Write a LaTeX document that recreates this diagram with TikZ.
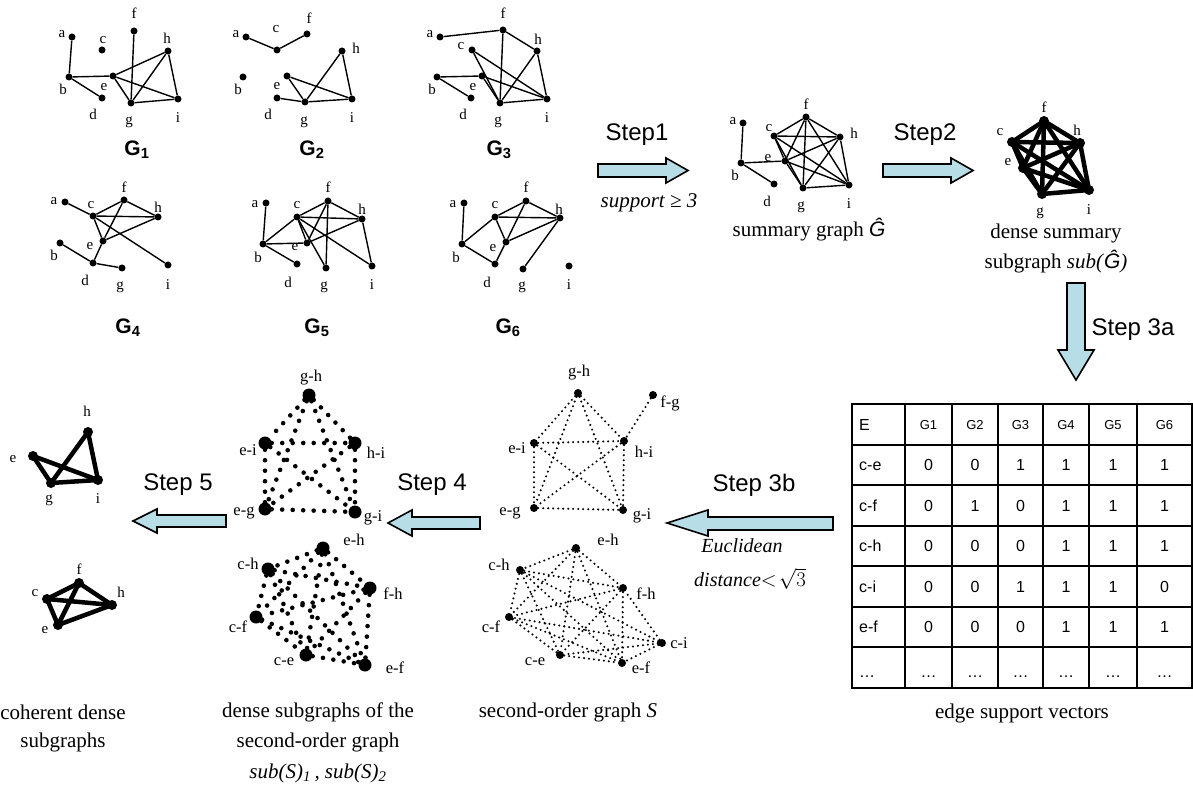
\documentclass[tikz,border=0pt]{standalone}
\usepackage{fontspec}
\setmainfont{Liberation Serif}
\setsansfont{Liberation Sans}
\definecolor{arrowfill}{RGB}{183,222,230}
\tikzset{
  gdot/.style={circle, fill=black, inner sep=0pt, minimum size=7pt},
  ddot/.style={circle, fill=black, inner sep=0pt, minimum size=10pt},
  sdot/.style={circle, fill=black, inner sep=0pt, minimum size=8pt},
  bdot/.style={circle, fill=black, inner sep=0pt, minimum size=13pt},
  glbl/.style={inner sep=0pt, font=\fontsize{15}{15}\selectfont},
  slbl/.style={inner sep=0pt, font=\fontsize{16.5}{16.5}\selectfont},
  gtitle/.style={inner sep=0pt, font=\sffamily\bfseries\fontsize{21}{21}\selectfont},
  steplbl/.style={inner sep=0pt, font=\sffamily\fontsize{24}{24}\selectfont},
  caption/.style={inner sep=0pt, font=\fontsize{21}{21}\selectfont},
  eucl/.style={inner sep=0pt, font=\fontsize{20}{20}\selectfont},
  gedge/.style={line width=1.4pt},
  dedge/.style={line width=4.5pt, line cap=round},
  soedge/.style={line width=2.3pt, line cap=round, dash pattern=on 0pt off 5pt},
  bigedge/.style={line width=4.6pt, line cap=round, dash pattern=on 0pt off 10.5pt},
  blockarrow/.style={draw=black, line width=1.6pt, fill=arrowfill, line join=miter},
  tgrid/.style={line width=2pt},
  thead/.style={inner sep=0pt, anchor=base, font=\sffamily\fontsize{13}{13}\selectfont},
  tval/.style={inner sep=0pt, anchor=base, font=\sffamily\fontsize{16}{16}\selectfont},
  tlab/.style={inner sep=0pt, anchor=base west, font=\sffamily\fontsize{16}{16}\selectfont},
}
\newcommand\tablerow[4]{%
  \node[tlab] (r#1lab) at (859,#2) {#3};
  \foreach \v [count=\c] in {#4} {
    \pgfmathsetmacro\cx{{928.5,975,1020.5,1066,1113,1164.5}[\c-1]}
    \node[tval] (r#1c\c) at (\cx,#2) {\v};
  }
}
\begin{document}
\begin{tikzpicture}[x=1pt,y=-1pt]
\useasboundingbox (0,0) rectangle (1193,791);

% ---------------- G1
\foreach \n/\x/\y in {a/72/37, c/102/50, f/134/31, h/168/51, b/69/77, e/113/76, d/102/98, g/131/103, i/178/99}
  \node[gdot] (ga\n) at (\x,\y) {};
\foreach \n/\x/\y in {a/62/34, c/103/40, f/134/13, h/167/38, b/63/89, e/104/87, d/93/114, g/129/122, i/178/118}
  \node[glbl] (La\n) at (\x,\y) {\n};
\foreach \u/\v in {a/b, b/e, b/d, e/h, e/g, e/i, f/g, g/h, g/i, h/i}
  \draw[gedge] (ga\u) -- (ga\v);
\node[gtitle] (T1) at (137,150) {G\textsubscript{1}};

% ---------------- G2
\foreach \n/\x/\y in {a/246/37, c/277/50, f/307/34, h/342/51, b/243/77, e/287/76, d/277/98, g/305/102, i/352/99}
  \node[gdot] (gb\n) at (\x,\y) {};
\foreach \n/\x/\y in {a/236/34, c/276/29, f/309/18, h/356/48, b/238/89, e/277/86, d/268/114, g/304/122, i/352/118}
  \node[glbl] (Lb\n) at (\x,\y) {\n};
\foreach \u/\v in {a/c, c/f, e/g, e/i, d/g, g/h, h/i, g/i}
  \draw[gedge] (gb\u) -- (gb\v);
\node[gtitle] (T2) at (312,150) {G\textsubscript{2}};

% ---------------- G3
\foreach \n/\x/\y in {a/440/37, f/503/30, c/472/50, h/537/51, b/437/77, e/482/76, d/471/98, g/500/103, i/547/99}
  \node[gdot] (gc\n) at (\x,\y) {};
\foreach \n/\x/\y in {a/430/34, f/503/13, c/461/46, h/538/39, b/432/89, e/473/87, d/463/114, g/498/122, i/547/118}
  \node[glbl] (Lc\n) at (\x,\y) {\n};
\foreach \u/\v in {a/f, f/g, f/h, c/g, c/i, h/g, h/i, g/i, b/e, e/i, e/g, b/d}
  \draw[gedge] (gc\u) -- (gc\v);
\node[gtitle] (T3) at (499,150) {G\textsubscript{3}};

% ---------------- G4
\foreach \n/\x/\y in {a/65/202, c/93/216, f/124/200, h/158/217, b/60/243, e/103/241, d/93/263, g/122/268, i/168/265}
  \node[gdot] (gd\n) at (\x,\y) {};
\foreach \n/\x/\y in {a/54/201, c/91/205, f/124/187, h/158/207, b/54/255, e/90/246, d/85/280, g/120/287, i/168/285}
  \node[glbl] (Ld\n) at (\x,\y) {\n};
\foreach \u/\v in {a/c, c/i, c/f, c/h, c/e, f/e, f/h, e/h, e/d, b/d, d/g}
  \draw[gedge] (gd\u) -- (gd\v);
\node[gtitle] (T4) at (128,328) {G\textsubscript{4}};

% ---------------- G5
\foreach \n/\x/\y in {a/266/203, c/297/217, f/328/201, h/362/219, b/263/244, e/307/243, d/297/264, g/326/268, i/372/266}
  \node[gdot] (ge\n) at (\x,\y) {};
\foreach \n/\x/\y in {a/255/204, c/297/205, f/328/187, h/362/209, b/258/257, e/295/247, d/288/282, g/324/287, i/372/285}
  \node[glbl] (Le\n) at (\x,\y) {\n};
\foreach \u/\v in {a/b, b/c, b/e, b/d, c/f, c/h, c/e, c/i, c/g, f/e, f/g, f/h, e/h, h/i}
  \draw[gedge] (ge\u) -- (ge\v);
\node[gtitle] (T5) at (317,328) {G\textsubscript{5}};

% ---------------- G6
\foreach \n/\x/\y in {a/464/203, c/495/217, f/526/201, h/560/218, b/462/244, e/506/242, d/495/264, g/523/269, i/569/266}
  \node[gdot] (gf\n) at (\x,\y) {};
\foreach \n/\x/\y in {a/453/204, c/495/205, f/526/187, h/559/209, b/456/257, e/493/248, d/487/282, g/522/287, i/569/285}
  \node[glbl] (Lf\n) at (\x,\y) {\n};
\foreach \u/\v in {a/b, b/c, b/d, c/f, c/h, c/e, f/e, f/h, e/h, e/d, h/g}
  \draw[gedge] (gf\u) -- (gf\v);
\node[gtitle] (T6) at (508,328) {G\textsubscript{6}};

% ---------------- Step 1
\draw[blockarrow] (598,164) -- (666,164) -- (666,158) -- (688,170.5) -- (666,183) -- (666,177) -- (598,177) -- cycle;
\node[steplbl] (st1) at (637,135) {Step1};
\node[caption] (supp) at (649,203) {\textit{support ≥ 3}};

% ---------------- summary graph
\foreach \n/\x/\y in {a/743/123, c/774/136, f/806/117, h/840/137, b/741/163, e/785/161, d/774/184, g/803/188, i/849/185}
  \node[gdot] (sg\n) at (\x,\y) {};
\foreach \n/\x/\y in {a/733/121, c/769/128, f/806/104, h/854/133, b/735/175, e/768/158, d/767/201, g/801/207, i/849/204}
  \node[glbl] (Ls\n) at (\x,\y) {\n};
\foreach \u/\v in {a/b, b/e, b/d, c/e, c/f, c/g, c/h, c/i, e/f, e/g, e/h, e/i, f/g, f/h, f/i, g/h, g/i, h/i}
  \draw[gedge] (sg\u) -- (sg\v);
\node[caption] (capsum) at (809,230) {summary graph \textsf{\itshape Ĝ}};

% ---------------- Step 2
\draw[blockarrow] (883,164) -- (951,164) -- (951,158) -- (973,170.5) -- (951,183) -- (951,177) -- (883,177) -- cycle;
\node[steplbl] (st2) at (925,135) {Step2};

% ---------------- dense summary subgraph
\foreach \n/\x/\y in {f/1044/121, c/1012/142, h/1080/143, e/1023/168, g/1042/194, i/1089/190}
  \node[ddot] (dg\n) at (\x,\y) {};
\foreach \n/\x/\y in {f/1044/107, c/1000/132, h/1077/130, e/1008/162, g/1040/213, i/1089/210}
  \node[glbl] (Ldg\n) at (\x,\y) {\n};
\foreach \u/\v in {c/e, c/f, c/g, c/h, c/i, e/f, e/g, e/h, e/i, f/g, f/h, f/i, g/h, g/i, h/i}
  \draw[dedge] (dg\u.center) -- (dg\v.center);
\node[caption] (capd1) at (1056,233) {dense summary};
\node[caption] (capd2) at (1056,262) {subgraph \textit{sub(}\textsf{\itshape Ĝ}\textit{)}};

% ---------------- Step 3a
\draw[blockarrow] (1067,283) -- (1085,283) -- (1085,350) -- (1094,350) -- (1076,380) -- (1058,350) -- (1067,350) -- cycle;
\node[steplbl] (st3a) at (1133,330) {Step 3a};

% ---------------- table
\draw[tgrid] (852,404) rectangle (1192,687.5);
\foreach \x in {905,952,998,1043,1089,1137}
  \draw[tgrid] (\x,404) -- (\x,687.5);
\foreach \k in {1,...,6}
  \draw[tgrid] (852,{404+40.5*\k}) -- (1192,{404+40.5*\k});
\node[tlab] (hE) at (859,430) {E};
\foreach \t/\x in {G1/928.5, G2/975, G3/1020.5, G4/1066, G5/1113, G6/1164.5}
  \node[thead] (h\t) at (\x,429) {\t};
\tablerow{1}{470.5}{c-e}{0,0,1,1,1,1}
\tablerow{2}{511}{c-f}{0,1,0,1,1,1}
\tablerow{3}{551.5}{c-h}{0,0,0,1,1,1}
\tablerow{4}{592}{c-i}{0,0,1,1,1,0}
\tablerow{5}{632.5}{e-f}{0,0,0,1,1,1}
\tablerow{6}{677}{…}{…,…,…,…,…,…}
\node[caption] (captab) at (1022,713) {edge support vectors};

% ---------------- Step 3b
\draw[blockarrow] (833,517) -- (708,517) -- (708,510) -- (667,523) -- (708,536) -- (708,530) -- (833,530) -- cycle;
\node[steplbl] (st3b) at (754,485) {Step 3b};
\node[eucl] (eu1) at (742,546) {\textit{Euclidean}};
\node[eucl] (eu2) at (750,579) {\textit{distance}$<\!\sqrt{3}$};

% ---------------- second-order graph S (top)
\foreach \n/\x/\y in {gh/578/393, fg/653/395, ei/534/443, hi/624/441, eg/534/508, gi/623/510}
  \node[sdot] (sa\n) at (\x,\y) {};
\foreach \n/\t/\x/\y in {gh/g-h/579/373, fg/f-g/670/403, ei/e-i/517/448, hi/h-i/644/452, eg/e-g/510/513, gi/g-i/642/516}
  \node[slbl] (Lsa\n) at (\x,\y) {\t};
\foreach \u/\v in {gh/ei, gh/hi, gh/eg, gh/gi, ei/hi, ei/eg, ei/gi, hi/eg, hi/gi, eg/gi, fg/hi}
  \draw[soedge] (sa\u) -- (sa\v);

% ---------------- second-order graph S (bottom)
\foreach \n/\x/\y in {eh/576/548, ch/520/570, fh/623/588, cf/509/617, ce/560/655, ef/622/663, ci/662/643}
  \node[sdot] (sb\n) at (\x,\y) {};
\foreach \n/\t/\x/\y in {eh/e-h/608/540, ch/c-h/499/565, fh/f-h/646/594, cf/c-f/491/627, ce/c-e/535/662, ef/e-f/641/668, ci/c-i/679/643}
  \node[slbl] (Lsb\n) at (\x,\y) {\t};
\foreach \u/\v in {eh/ch, eh/fh, eh/cf, eh/ce, eh/ef, ch/fh, ch/cf, ch/ce, ch/ef, fh/cf, fh/ce, fh/ef, cf/ce, cf/ef, ce/ef, ci/ch, ci/fh, ci/cf, ci/ce, ci/ef}
  \draw[soedge] (sb\u) -- (sb\v);
\node[caption] (capS) at (568,712) {second-order graph \textit{S}};

% ---------------- Step 4
\draw[blockarrow] (480,517) -- (412,517) -- (412,510) -- (388,523) -- (412,536) -- (412,529) -- (480,529) -- cycle;
\node[steplbl] (st4) at (432,485) {Step 4};

\foreach \n/\x/\y in {gh/309/395, ei/265/443, hi/355/443, eg/265/509, gi/355/512}
  \node[bdot] (pa\n) at (\x,\y) {};
\foreach \n/\t/\x/\y in {gh/g-h/311/378, ei/e-i/248/450, hi/h-i/376/453, eg/e-g/244/513, gi/g-i/373/518}
  \node[slbl] (Lpa\n) at (\x,\y) {\t};
\foreach \u/\v in {gh/ei, gh/hi, gh/eg, gh/gi, ei/hi, ei/eg, ei/gi, hi/eg, hi/gi, eg/gi}
  \draw[bigedge] (pa\u) -- (pa\v);

\foreach \n/\x/\y in {eh/323/548, ch/268/569, fh/370/588, cf/256/617, ce/306/655, ef/365/665}
  \node[bdot] (pb\n) at (\x,\y) {};
\foreach \n/\t/\x/\y in {eh/e-h/354/540, ch/c-h/248/564, fh/f-h/393/594, cf/c-f/238/627, ce/c-e/284/662, ef/e-f/395/668}
  \node[slbl] (Lpb\n) at (\x,\y) {\t};
\foreach \u/\v in {eh/ch, eh/fh, eh/cf, eh/ce, eh/ef, ch/fh, ch/cf, ch/ce, ch/ef, fh/cf, fh/ce, fh/ef, cf/ce, cf/ef, ce/ef}
  \draw[bigedge] (pb\u) -- (pb\v);
\node[caption] (cap4a) at (318,712) {dense subgraphs of the};
\node[caption] (cap4b) at (318,742) {second-order graph};
\node[caption] (cap4c) at (318,773) {\textit{sub(S)\textsubscript{1}\,, sub(S)\textsubscript{2}}};

% ---------------- Step 5
\draw[blockarrow] (226,515) -- (157,515) -- (157,509) -- (133,521) -- (157,533) -- (157,527) -- (226,527) -- cycle;
\node[steplbl] (st5) at (178,485) {Step 5};

\foreach \n/\x/\y in {h/88/432, e/33/456, g/51/483, i/98/480}
  \node[ddot] (ca\n) at (\x,\y) {};
\foreach \n/\x/\y in {h/87/411, e/13/459, g/49/500, i/98/499}
  \node[glbl] (Lca\n) at (\x,\y) {\n};
\foreach \u/\v in {e/g, e/i, g/h, h/i, g/i}
  \draw[dedge] (ca\u.center) -- (ca\v.center);

\foreach \n/\x/\y in {f/79/583, c/47/599, h/112/605, e/58/625}
  \node[ddot] (cb\n) at (\x,\y) {};
\foreach \n/\x/\y in {f/79/569, c/35/593, h/121/592, e/45/630}
  \node[glbl] (Lcb\n) at (\x,\y) {\n};
\foreach \u/\v in {c/f, f/h, c/h, c/e, f/e, e/h}
  \draw[dedge] (cb\u.center) -- (cb\v.center);
\node[caption] (cap5a) at (63,712) {coherent dense};
\node[caption] (cap5b) at (63,742) {subgraphs};

\end{tikzpicture}
\end{document}
